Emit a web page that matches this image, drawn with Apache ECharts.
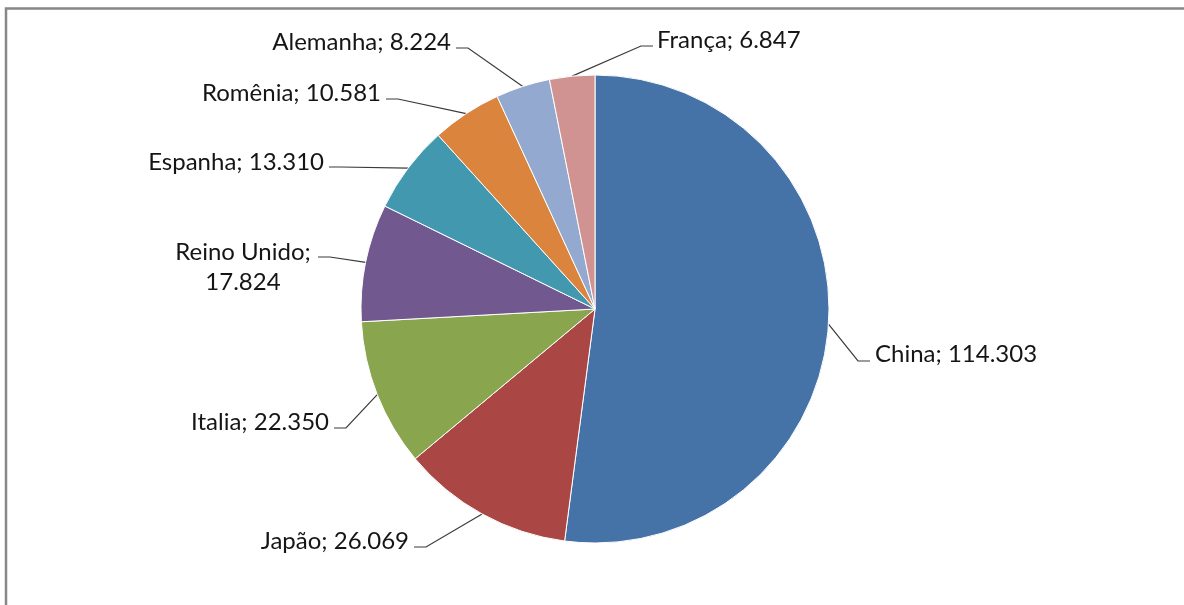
<!DOCTYPE html>
<html>
<head>
<meta charset="utf-8">
<script src="https://cdn.jsdelivr.net/npm/echarts@6/dist/echarts.min.js"></script>
<style>
  html, body { margin: 0; padding: 0; background: #ffffff; }
  #chart { width: 1184px; height: 605px; }
</style>
</head>
<body>
<div id="chart"></div>
<script>
// Production by country
const countries = ['China', 'Japão', 'Italia', 'Reino Unido', 'Espanha', 'Romênia', 'Alemanha', 'França'];
const values = [114.303, 26.069, 22.350, 17.824, 13.310, 10.581, 8.224, 6.847];
const sliceColors = ['#4572A7', '#AA4643', '#89A54E', '#71588F', '#4198AF', '#DB843D', '#93A9CF', '#D19392'];

// Where each label sits: text anchor, alignment, and the point where its leader line stops
const labelPlacement = [
  { x: 875, y: 354, align: 'left',   stub: [870, 361], dir: -1 },
  { x: 409, y: 541, align: 'right',  stub: [414, 547], dir: 1 },
  { x: 329, y: 422, align: 'right',  stub: [334, 428], dir: 1 },
  { x: 243, y: 267, align: 'center', stub: [318, 257], dir: 1 },
  { x: 324, y: 162, align: 'right',  stub: [329, 167], dir: 1 },
  { x: 381, y: 93,  align: 'right',  stub: [386, 99],  dir: 1 },
  { x: 451, y: 42,  align: 'right',  stub: [456, 48],  dir: 1 },
  { x: 657, y: 40,  align: 'left',   stub: [653, 46],  dir: -1 }
];
const STUB_LEN = 12;

const chart = echarts.init(document.getElementById('chart'), null, { renderer: 'canvas' });

const seriesData = countries.map((name, i) => ({
  name: name,
  value: values[i],
  itemStyle: { color: sliceColors[i] }
}));

chart.setOption({
  animation: false,
  backgroundColor: '#ffffff',
  graphic: [{
    // chart-area frame: only the top and left edges fall inside the page
    type: 'polyline',
    shape: { points: [[6, 700], [6, 8.5], [1300, 8.5]] },
    style: { fill: null, stroke: '#878787', lineWidth: 2.5 },
    silent: true,
    z: 0
  }],
  series: [{
    type: 'pie',
    center: [595, 309],
    radius: 234,
    startAngle: 90,
    clockwise: true,
    avoidLabelOverlap: false,
    itemStyle: { borderColor: '#ffffff', borderWidth: 1 },
    label: {
      show: true,
      position: 'outside',
      fontFamily: 'Lato',
      fontSize: 24,
      color: '#151515',
      lineHeight: 30,
      formatter: function (p) {
        const v = values[p.dataIndex].toFixed(3);
        return p.name === 'Reino Unido' ? p.name + ';\n' + v : p.name + '; ' + v;
      }
    },
    labelLine: {
      show: true,
      lineStyle: { color: '#3a3a3a', width: 1.2 }
    },
    labelLayout: function (params) {
      const pl = labelPlacement[params.dataIndex];
      const anchor = params.labelLinePoints[0];
      const elbow = [pl.stub[0] + pl.dir * STUB_LEN, pl.stub[1]];
      return {
        x: pl.x,
        y: pl.y,
        align: pl.align,
        verticalAlign: 'middle',
        labelLinePoints: [anchor, elbow, pl.stub]
      };
    },
    emphasis: { disabled: true },
    data: seriesData
  }]
});
</script>
</body>
</html>
